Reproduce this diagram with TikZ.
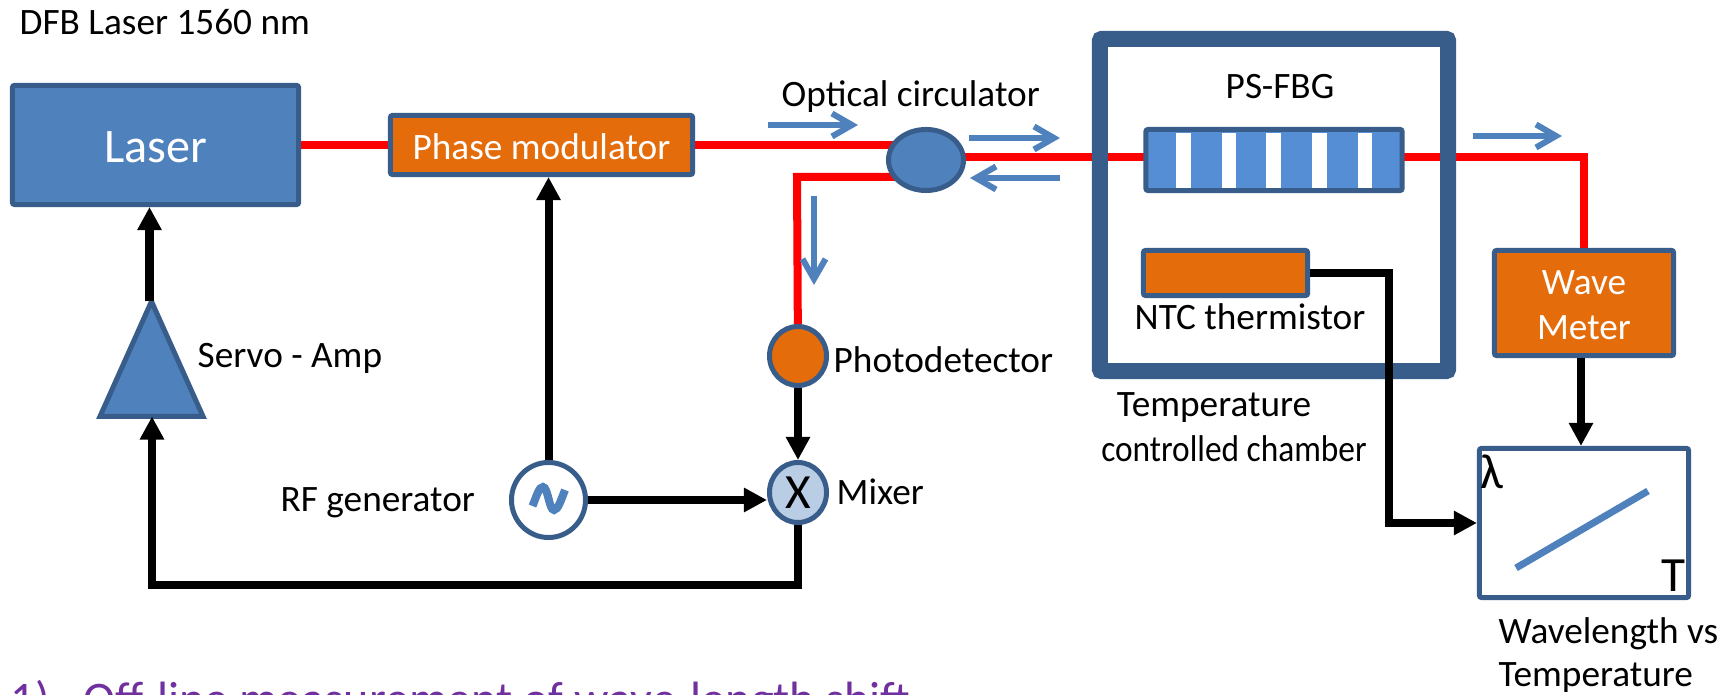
\documentclass[tikz,border=0pt]{standalone}
\usepackage{fontspec}
\setmainfont{Carlito}
\usepackage{xcolor}
\usetikzlibrary{arrows.meta,calc,backgrounds,shapes.geometric}
\definecolor{edgeblue}{HTML}{385D8A}
\definecolor{fillblue}{HTML}{4F81BD}
\definecolor{gratingblue}{HTML}{558ED5}
\definecolor{mixerblue}{HTML}{B9CDE5}
\definecolor{fillorange}{HTML}{E46C0A}
\definecolor{notepurple}{HTML}{7030A0}
\tikzset{
	part/.style={draw=edgeblue, line width=0.05cm, inner sep=0pt, rounded corners=0.02cm},
	round part/.style={draw=edgeblue, line width=0.05cm, inner sep=0pt, shape=ellipse},
	wire/.style={black, line width=0.08cm, -{Triangle[length=0.23cm,width=0.23cm]}},
	fibre/.style={red, line width=0.08cm},
	flow/.style={fillblue, line width=0.06cm, -{Straight Barb[length=0.2cm,width=0.23cm]}},
	lbl/.style={inner sep=0pt, font=\fontsize{10.6}{12}\selectfont},
	inlbl/.style={text=white, font=\fontsize{10.6}{12}\selectfont}
}

\begin{document}
\begin{tikzpicture}[x=0.01cm, y=-0.01cm]
	\useasboundingbox (0,0) rectangle (1733,695);

	\node[part, fill=fillblue, minimum width=2.86cm, minimum height=1.19cm, text=white, text height=0.36cm, font=\fontsize{13.7}{16}\selectfont] (laser) at (155.5,145) {Laser};
	\node[part, fill=fillorange, minimum width=3.02cm, minimum height=0.59cm, inlbl, text height=0.29cm] (phase) at (541.5,145) {Phase modulator};
	\node[round part, fill=fillblue, minimum width=0.75cm, minimum height=0.61cm] (circ) at (926,160) {};
	\node[part, fill=gratingblue, minimum width=2.56cm, minimum height=0.61cm] (fbg) at (1274,160) {};
	\foreach \x/\w in {1175.5/15.5, 1222/14, 1266/15, 1312/15, 1358/14}
		\fill[white] (\x,133) rectangle +(\w,55);
	\node[draw=edgeblue, line width=0.16cm, rounded corners=0.02cm, minimum width=3.48cm, minimum height=3.32cm] (chamber) at (1274,205) {};
	\node[part, fill=fillorange, minimum width=1.64cm, minimum height=0.45cm] (ntc) at (1225.5,273) {};
	\node[part, fill=fillorange, minimum width=1.79cm, minimum height=1.05cm, inlbl, align=center] (meter) at (1584,303) {\rule{0pt}{0.286cm}Wave\\[0.024cm]Meter};
	\node[part, minimum width=2.09cm, minimum height=1.49cm] (plot) at (1584,523) {};
	\node[round part, fill=fillorange, minimum width=0.57cm, minimum height=0.59cm] (pd) at (798,356) {};
	\node[round part, fill=mixerblue, minimum width=0.57cm, minimum height=0.6cm, font=\fontsize{14}{16}\selectfont] (mixer) at (798,492.5) {X};
	\node[round part, fill=white, minimum width=0.74cm, minimum height=0.75cm] (rf) at (548.5,500) {};
	\node[part, rounded corners=0pt, fill=fillblue, shape=isosceles triangle, shape border rotate=90, isosceles triangle stretches, minimum width=1.03cm, minimum height=1.15cm, anchor=lower side, outer sep=0pt] (servo) at (151.5,416.5) {};

	\draw[fillblue, line width=0.08cm] (532.5,506) .. controls (537,495) and (539,487) .. (543,487) .. controls (548,487) and (549,510) .. (554,510) .. controls (558,510) and (561,500) .. (565,490);

	\coordinate (outbend) at (1584,157);
	\coordinate (pdbend) at (797,177);
	\coordinate (mixbend) at (152,585);
	\coordinate (thermbend) at (1389,273);
	\begin{pgfonlayer}{background}
		\draw[fibre] (laser.east) -- (phase.west);
		\draw[fibre] (phase.east) -- (phase.east -| circ.center);
		\draw[fibre] (pd.center) -- (pdbend) -- (pdbend -| circ.center);
		\draw[fibre] (outbend -| circ.center) -- (outbend) -- (meter.north);
	\end{pgfonlayer}

	\draw[wire] ([xshift=-0.02cm]servo.apex) -- ([xshift=-0.02cm]servo.apex |- laser.south);
	\draw[wire] (rf.north) -- (rf.north |- phase.south);
	\draw[wire] (pd.south) -- (mixer.north);
	\draw[wire] (rf.east) -- (rf.east -| mixer.west);
	\draw[wire] (mixer.south) |- (mixbend) -- (mixbend |- servo.lower side);
	\draw[wire] (ntc.east |- thermbend) -- (thermbend) |- (plot.west);
	\draw[wire] ([xshift=-0.03cm]meter.south) -- ([xshift=-0.03cm]plot.north);

	\coordinate (flowa) at (768,125);
	\coordinate (flowb) at (858,125);
	\coordinate (flowc) at (969,138);
	\coordinate (flowd) at (1060,138);
	\coordinate (flowe) at (1060,178);
	\coordinate (flowf) at (970,178);
	\coordinate (flowg) at (814,196);
	\coordinate (flowh) at (814,285);
	\coordinate (flowi) at (1473,136);
	\coordinate (flowj) at (1562,136);
	\draw[flow] (flowa) -- (flowb);
	\draw[flow] (flowc) -- (flowd);
	\draw[flow] (flowe) -- (flowf);
	\draw[flow] (flowg) -- (flowh);
	\draw[flow] (flowi) -- (flowj);

	\coordinate (tracea) at (1516,568);
	\coordinate (traceb) at (1648,491);
	\draw[fillblue, line width=0.07cm] (tracea) -- (traceb);

	\node[lbl, anchor=west] (dfb) at (19,22) {DFB Laser 1560 nm};
	\node[lbl, anchor=west] (optical) at (781,97) {Optical circulator};
	\node[lbl] (psfbg) at (1280,87) {PS-FBG};
	\node[lbl] (ntclabel) at (1250,317) {NTC thermistor};
	\node[lbl, anchor=west] (servolabel) at (197,358) {Servo - Amp};
	\node[lbl, anchor=west] (pdlabel) at (833,360) {Photodetector};
	\node[lbl, anchor=west] (rflabel) at (280,503) {RF generator};
	\node[lbl, anchor=west] (mixerlabel) at (836,492) {Mixer};
	\node[lbl] (templabel) at (1214,408) {Temperature};
	\node[lbl] (chamberlabel) at (1234,449) {\scalebox{0.895}[1]{controlled chamber}};
	\node[lbl, anchor=west] (wavelabel) at (1498,634) {Wavelength vs};
	\node[lbl, anchor=west] (versuslabel) at (1498,678) {Temperature};
	\node[lbl, font=\fontsize{14}{16}\selectfont] (lambda) at (1492,472) {λ};
	\node[lbl, font=\fontsize{14}{16}\selectfont] (tee) at (1673,576) {T};
	\node[inner sep=0pt, anchor=base west, text=notepurple, font=\fontsize{13.7}{15}\selectfont] (note) at (10,716) {1)\hspace{0.34cm}Off-line measurement of wave-length shift};
\end{tikzpicture}
\end{document}
